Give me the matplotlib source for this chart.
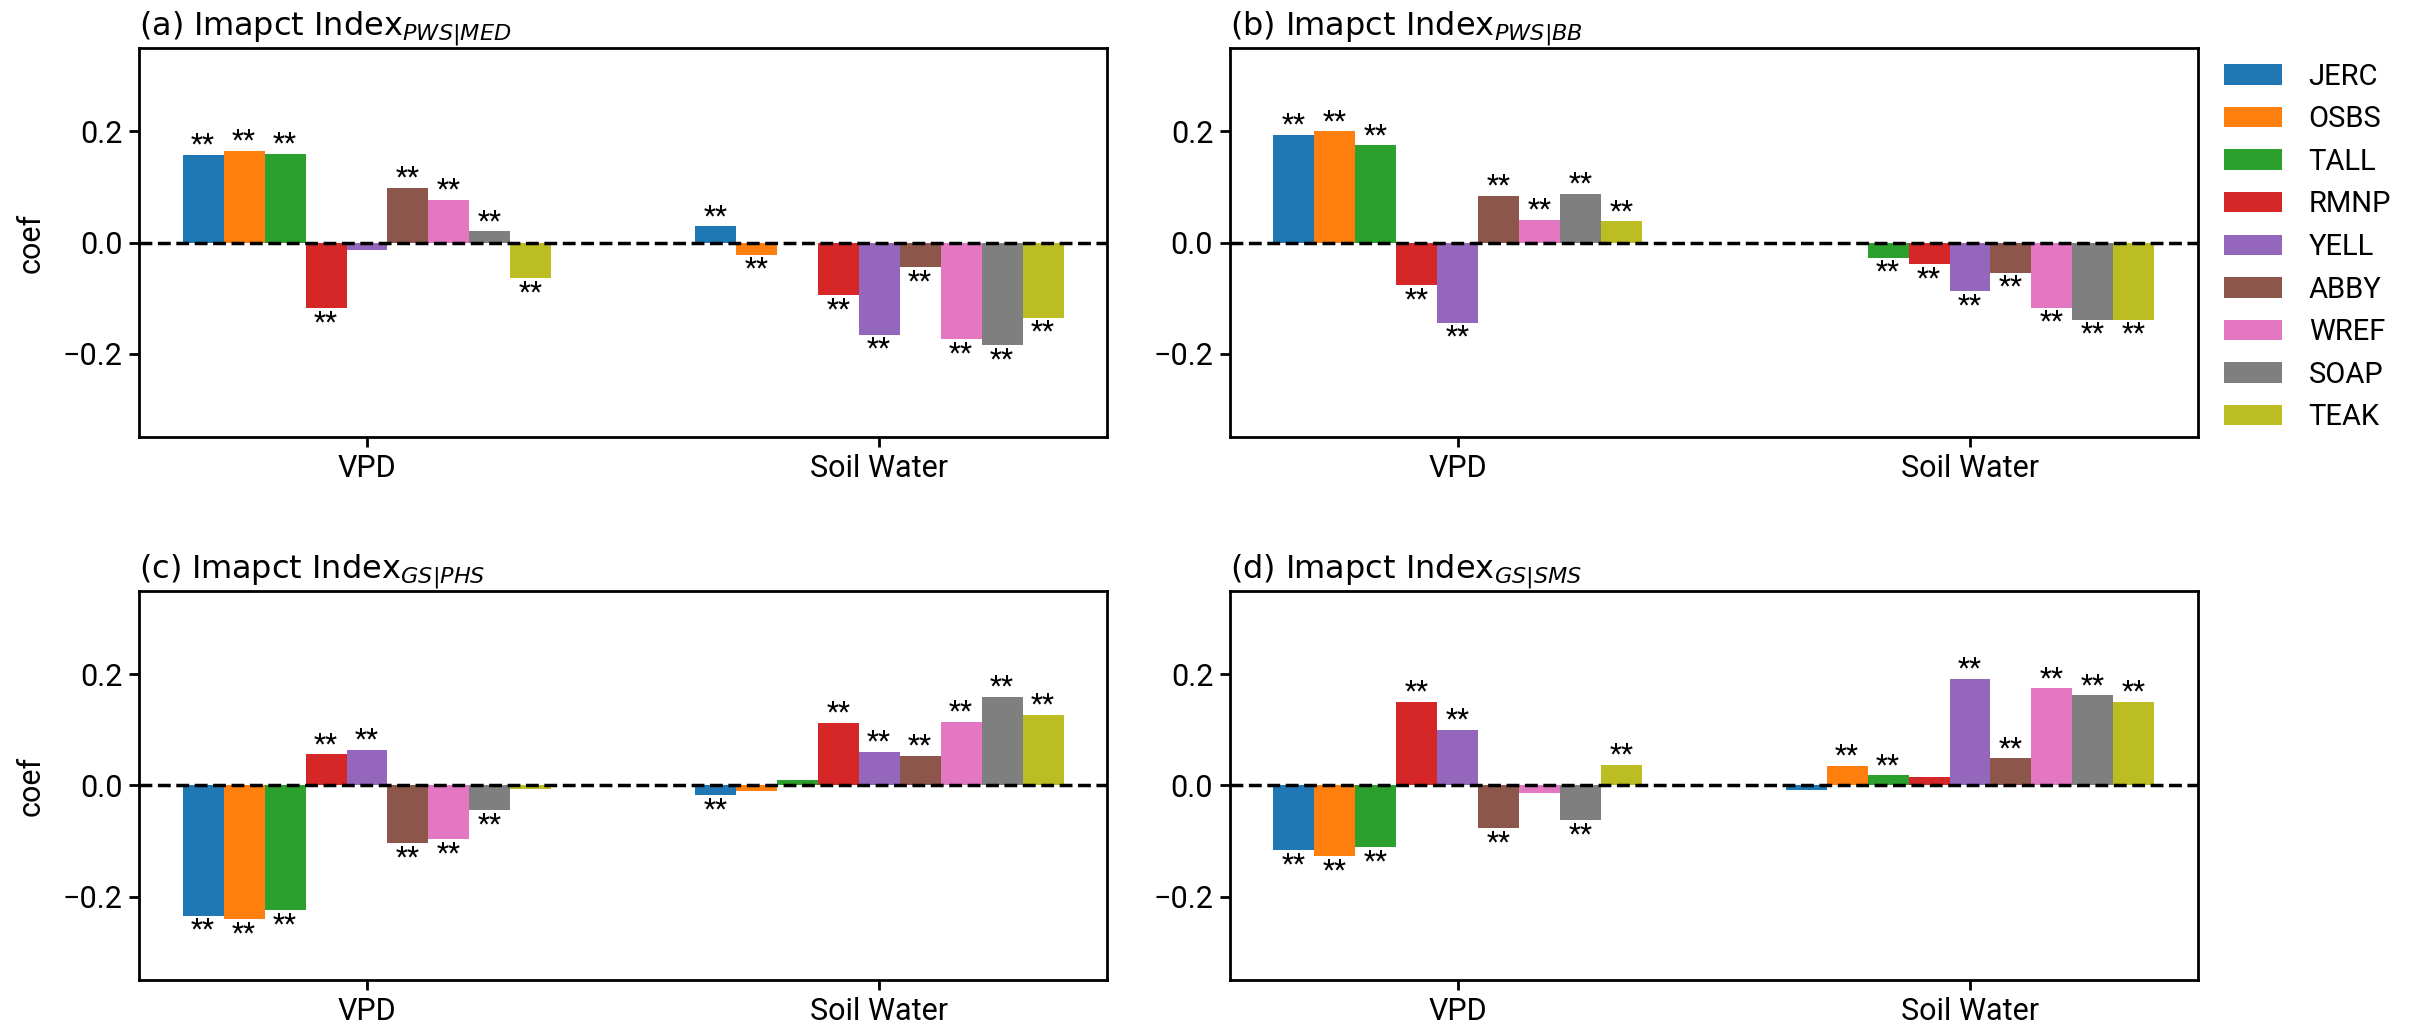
import numpy as np
import matplotlib
matplotlib.use("Agg")
import matplotlib.pyplot as plt

plt.rcParams['font.family'] = ['Roboto', 'DejaVu Sans']
plt.rcParams['mathtext.fontset'] = 'dejavusans'

sites = ['JERC', 'OSBS', 'TALL', 'RMNP', 'YELL', 'ABBY', 'WREF', 'SOAP', 'TEAK']
colors = ['#1f77b4', '#ff7f0e', '#2ca02c', '#d62728', '#9467bd',
          '#8c564b', '#e377c2', '#7f7f7f', '#bcbd22']
groups = ['VPD', 'Soil Water']

titles = [r'(a) Imapct Index$_{PWS|MED}$',
          r'(b) Imapct Index$_{PWS|BB}$',
          r'(c) Imapct Index$_{GS|PHS}$',
          r'(d) Imapct Index$_{GS|SMS}$']

# coefficients per site: [VPD, Soil Water]
coef_a = [[0.158, 0.029], [0.165, -0.022], [0.159, 0.0], [-0.118, -0.095],
          [-0.013, -0.166], [0.098, -0.044], [0.077, -0.174], [0.020, -0.185],
          [-0.064, -0.135]]
sig_a = [[1, 1], [1, 1], [1, 0], [1, 1], [0, 1], [1, 1], [1, 1], [1, 1], [1, 1]]

coef_b = [[0.194, 0.0], [0.200, 0.0], [0.175, -0.027], [-0.077, -0.039],
          [-0.144, -0.087], [0.084, -0.054], [0.041, -0.117], [0.088, -0.139],
          [0.038, -0.139]]
sig_b = [[1, 0], [1, 0], [1, 1], [1, 1], [1, 1], [1, 1], [1, 1], [1, 1], [1, 1]]

coef_c = [[-0.234, -0.018], [-0.241, -0.010], [-0.224, 0.009], [0.056, 0.113],
          [0.064, 0.061], [-0.104, 0.053], [-0.097, 0.114], [-0.045, 0.160],
          [-0.006, 0.127]]
sig_c = [[1, 1], [1, 0], [1, 0], [1, 1], [1, 1], [1, 1], [1, 1], [1, 1], [0, 1]]

coef_d = [[-0.117, -0.009], [-0.127, 0.035], [-0.111, 0.018], [0.150, 0.015],
          [0.100, 0.192], [-0.077, 0.049], [-0.013, 0.175], [-0.063, 0.162],
          [0.037, 0.151]]
sig_d = [[1, 0], [1, 1], [1, 1], [1, 0], [1, 1], [1, 1], [0, 1], [1, 1], [1, 1]]

all_coefs = [coef_a, coef_b, coef_c, coef_d]
all_sigs = [sig_a, sig_b, sig_c, sig_d]


def main():
    fig = plt.figure(figsize=(24.23, 10.31), dpi=100)
    w, h = 0.3995, 0.3773
    rects = [[0.0574, 0.5761, w, h], [0.5076, 0.5761, w, h],
             [0.0574, 0.0495, w, h], [0.5076, 0.0495, w, h]]

    bar_w = 0.08
    xg = np.arange(len(groups))
    axes = []
    for k in range(4):
        ax = fig.add_axes(rects[k])
        axes.append(ax)
        coefs = np.array(all_coefs[k])
        sigs = np.array(all_sigs[k])
        for i, site in enumerate(sites):
            xs = xg + (i - 4) * bar_w
            ax.bar(xs, coefs[i], width=bar_w, color=colors[i], label=site)
            for x, v, s in zip(xs, coefs[i], sigs[i]):
                if not s:
                    continue
                if v > 0:
                    ax.text(x, v + 0.004, '**', ha='center', va='baseline', fontsize=20)
                else:
                    ax.text(x, v - 0.002, '**', ha='center', va='top', fontsize=20)
        ax.axhline(0, color='black', linestyle='--', linewidth=2.5)
        ax.set_ylim(-0.35, 0.35)
        ax.set_xlim(-0.445, 1.445)
        ax.set_yticks([-0.2, 0.0, 0.2])
        ax.set_xticks(xg)
        ax.set_xticklabels(groups)
        ax.tick_params(axis='both', labelsize=22, length=7, width=2, pad=5)
        for sp in ax.spines.values():
            sp.set_linewidth(2)
        ax.set_title(titles[k], loc='left', fontsize=23, pad=2,
                     fontfamily='DejaVu Sans')
        if k in (0, 2):
            ax.set_ylabel('coef', fontsize=22)
            ax.yaxis.set_label_coords(-0.097, 0.5)

    axes[1].legend(loc='upper left', bbox_to_anchor=(1.0, 1.03), frameon=False,
                   fontsize=21, borderaxespad=0.5, handletextpad=0.9)

    plt.savefig('out.png', dpi=100)


if __name__ == "__main__":
    main()
